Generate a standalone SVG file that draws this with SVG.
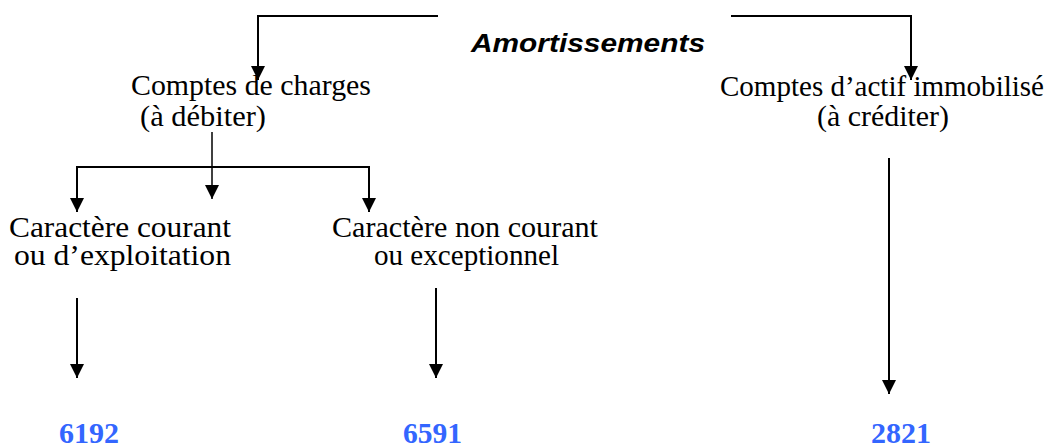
<svg xmlns="http://www.w3.org/2000/svg" width="1058" height="445" viewBox="0 0 1058 445">
<style>
.t{font-family:"Liberation Serif","Times New Roman",serif;font-size:28.5px;fill:#000}
.ttl{font-family:"Liberation Sans",Arial,sans-serif;font-size:26px;font-weight:bold;font-style:italic;fill:#000}
.num{font-family:"Liberation Serif","Times New Roman",serif;font-size:29px;font-weight:bold;fill:#3366ff}
.ln{fill:none;stroke:#000;stroke-width:2}
.thin{fill:none;stroke:#000;stroke-width:1.5}
</style>
<defs>
<marker id="ah" viewBox="0 0 14 14" refX="14" refY="7" markerWidth="14" markerHeight="14" markerUnits="userSpaceOnUse" orient="auto">
<path d="M0,0 L14,7 L0,14 z" fill="#000"/>
</marker>
</defs>
<rect width="1058" height="445" fill="#fff"/>
<g id="connectors">
<path class="ln" d="M438,16 H258 V80" marker-end="url(#ah)"/>
<path class="ln" d="M731,16 H911 V80" marker-end="url(#ah)"/>
<path class="thin" d="M212,132 V199" marker-end="url(#ah)"/>
<path class="ln" d="M77,212 V167 H369 V212"/>
<path class="ln" d="M77,167 V212" marker-end="url(#ah)"/>
<path class="ln" d="M369,167 V212" marker-end="url(#ah)"/>
<path class="ln" d="M77,298 V378" marker-end="url(#ah)"/>
<path class="ln" d="M436,288 V378" marker-end="url(#ah)"/>
<path class="ln" d="M889,158 V394" marker-end="url(#ah)"/>
</g>
<g id="title"><text class="ttl" x="471" y="52" textLength="234" lengthAdjust="spacingAndGlyphs">Amortissements</text></g>
<g id="charges">
<text class="t" x="131" y="95" textLength="240" lengthAdjust="spacingAndGlyphs">Comptes de charges</text>
<text class="t" x="140" y="126" textLength="126" lengthAdjust="spacingAndGlyphs">(à débiter)</text>
</g>
<g id="actif">
<text class="t" x="720" y="96" textLength="324" lengthAdjust="spacingAndGlyphs">Comptes d’actif immobilisé</text>
<text class="t" x="817" y="126" textLength="132" lengthAdjust="spacingAndGlyphs">(à créditer)</text>
</g>
<g id="courant">
<text class="t" x="9" y="237" textLength="222" lengthAdjust="spacingAndGlyphs">Caractère courant</text>
<text class="t" x="14" y="265" textLength="217" lengthAdjust="spacingAndGlyphs">ou d’exploitation</text>
</g>
<g id="noncourant">
<text class="t" x="332" y="237" textLength="266" lengthAdjust="spacingAndGlyphs">Caractère non courant</text>
<text class="t" x="374" y="265" textLength="185" lengthAdjust="spacingAndGlyphs">ou exceptionnel</text>
</g>
<g id="n6192"><text class="num" x="59" y="443" textLength="60" lengthAdjust="spacingAndGlyphs">6192</text></g>
<g id="n6591"><text class="num" x="403" y="443" textLength="59" lengthAdjust="spacingAndGlyphs">6591</text></g>
<g id="n2821"><text class="num" x="871" y="443" textLength="60" lengthAdjust="spacingAndGlyphs">2821</text></g>
</svg>
